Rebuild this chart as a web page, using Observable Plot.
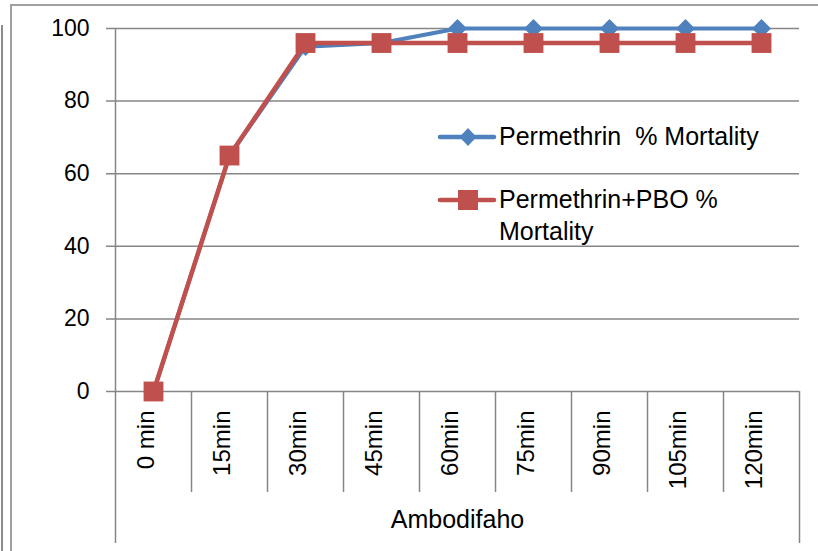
<!DOCTYPE html>
<html>
<head>
<meta charset="utf-8">
<script src="https://cdn.jsdelivr.net/npm/d3@7"></script>
<script src="https://cdn.jsdelivr.net/npm/@observablehq/plot@0.6"></script>
<style>
  html, body { margin: 0; padding: 0; background: #fff; }
  #wrap { position: relative; width: 818px; height: 551px; overflow: hidden; font-family: "Liberation Sans", Arial, sans-serif; }
  .bl { position: absolute; background: #8c8c8c; }
  .leg { position: absolute; font-size: 25px; color: #000; white-space: pre; line-height: 32px; }
  .sw { position: absolute; }
</style>
</head>
<body>
<div id="wrap">
  <div class="bl" style="left:1px;top:25px;width:2px;height:526px;"></div>
  <div class="bl" style="left:10px;top:4px;width:2px;height:547px;background:#a0a0a0"></div>
  <div class="bl" style="left:10px;top:4px;width:808px;height:2px;background:#a0a0a0"></div>
  <div id="chart" style="position:absolute;left:0;top:0;"></div>
  <div id="legend"></div>
</div>
<script>
const categories = ["0 min", "15min", "30min", "45min", "60min", "75min", "90min", "105min", "120min"];
const permethrin = [0, 65, 95, 96, 100, 100, 100, 100, 100];
const permethrinPBO = [0, 65, 96, 96, 96, 96, 96, 96, 96];
const yTicks = [0, 20, 40, 60, 80, 100];
const groupLabel = "Ambodifaho";
const seriesNames = ["Permethrin  % Mortality", "Permethrin+PBO %\nMortality"];
const seriesColors = ["#4F81BD", "#C0504D"];

const W = 818, H = 551, mL = 115, mR = 19, mT = 28, mB = 160;
const bw = (W - mL - mR) / categories.length;
const plotH = H - mT - mB;
const grid = "#868686";

const dataA = categories.map((c, i) => ({t: c, v: permethrin[i]}));
const dataB = categories.map((c, i) => ({t: c, v: permethrinPBO[i]}));

const chart = Plot.plot({
  width: W, height: H,
  marginLeft: mL, marginRight: mR, marginTop: mT, marginBottom: mB,
  style: {fontFamily: "Liberation Sans, Arial, sans-serif", fontSize: "23px", color: "#000", background: "transparent", overflow: "visible"},
  x: {type: "band", domain: categories, padding: 0, axis: null},
  y: {domain: [0, 100], axis: null},
  marks: [
    Plot.ruleY(yTicks, {y: d => d, stroke: grid, strokeWidth: 1.5, insetLeft: -9}),
    Plot.ruleX([categories[0]], {x: d => d, dx: -bw / 2, insetBottom: -152, stroke: grid, strokeWidth: 1.5}),
    Plot.ruleX(categories.slice(1), {x: d => d, dx: -bw / 2, insetTop: plotH, insetBottom: -101, stroke: grid, strokeWidth: 1.5}),
    Plot.ruleX([categories[categories.length - 1]], {x: d => d, dx: bw / 2, insetTop: plotH, insetBottom: -152, stroke: grid, strokeWidth: 1.5}),
    Plot.text(yTicks, {y: d => d, text: d => String(d), frameAnchor: "left", dx: -26, textAnchor: "end", fill: "#000", fontSize: 23}),
    Plot.text(categories, {x: d => d, text: d => d, frameAnchor: "bottom", rotate: -90, textAnchor: "end", dy: 19, fill: "#000", fontSize: 24}),
    Plot.text([groupLabel], {text: d => d, frameAnchor: "bottom", dy: 136, fill: "#000", fontSize: 25}),
    Plot.line(dataA, {x: "t", y: "v", stroke: seriesColors[0], strokeWidth: 4}),
    Plot.dot(dataA, {x: "t", y: "v", symbol: "diamond2", r: 8.5, fill: seriesColors[0], stroke: "none"}),
    Plot.line(dataB, {x: "t", y: "v", stroke: seriesColors[1], strokeWidth: 4.5}),
    Plot.dot(dataB, {x: "t", y: "v", symbol: "square", r: 11.2, fill: seriesColors[1], stroke: "none"})
  ]
});
document.getElementById("chart").appendChild(chart);

// legend
const leg = document.getElementById("legend");
const legendRows = [{y: 137, sym: "diamond"}, {y: 200, sym: "square"}];
legendRows.forEach((r, i) => {
  const sw = document.createElementNS("http://www.w3.org/2000/svg", "svg");
  sw.setAttribute("width", 60); sw.setAttribute("height", 24);
  sw.setAttribute("class", "sw");
  sw.style.left = "437px"; sw.style.top = (r.y - 12) + "px";
  const ln = document.createElementNS(sw.namespaceURI, "line");
  ln.setAttribute("x1", 3); ln.setAttribute("x2", 57); ln.setAttribute("y1", 12); ln.setAttribute("y2", 12);
  ln.setAttribute("stroke", seriesColors[i]); ln.setAttribute("stroke-width", 4.5); ln.setAttribute("stroke-linecap", "round");
  sw.appendChild(ln);
  if (r.sym === "diamond") {
    const p = document.createElementNS(sw.namespaceURI, "path");
    p.setAttribute("d", "M31,3 L39.5,12 L31,21 L22.5,12 Z");
    p.setAttribute("fill", seriesColors[i]);
    sw.appendChild(p);
  } else {
    const p = document.createElementNS(sw.namespaceURI, "rect");
    p.setAttribute("x", 21); p.setAttribute("y", 2); p.setAttribute("width", 20); p.setAttribute("height", 20);
    p.setAttribute("fill", seriesColors[i]);
    sw.appendChild(p);
  }
  leg.appendChild(sw);
  const t = document.createElement("div");
  t.className = "leg";
  t.textContent = seriesNames[i];
  t.style.left = "499px"; t.style.top = (r.y - 17) + "px";
  leg.appendChild(t);
});
</script>
</body>
</html>
